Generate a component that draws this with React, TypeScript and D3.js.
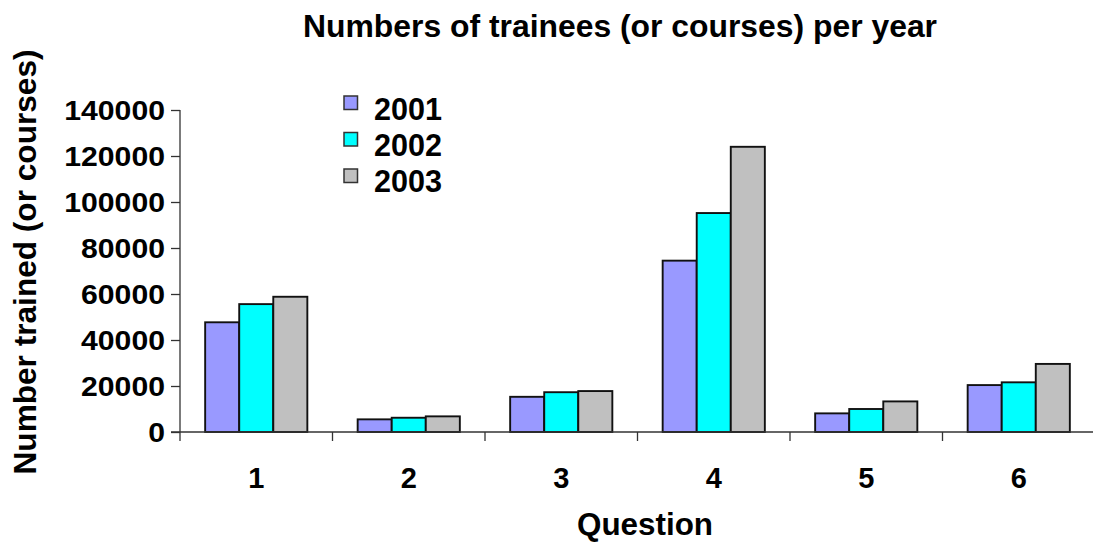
import React, { useEffect, useRef } from 'react';
import * as d3 from 'd3';

const questions = ['1', '2', '3', '4', '5', '6'];
const years = ['2001', '2002', '2003'];
const values2001 = [47700, 5500, 15300, 74500, 8100, 20400];
const values2002 = [55600, 6200, 17300, 95200, 10000, 21600];
const values2003 = [58800, 6800, 17800, 124000, 13300, 29600];
const yTicks = [0, 20000, 40000, 60000, 80000, 100000, 120000, 140000];
const colors = ['#9999FF', '#00FFFF', '#C0C0C0'];

const FONT = '"Liberation Sans", Arial, sans-serif';

const App = () => {
    const ref = useRef<SVGSVGElement>(null);

    useEffect(() => {
        const svg = d3.select(ref.current);
        svg.selectAll('*').remove();

        const left = 180;
        const right = 1095;
        const top = 110;
        const bottom = 432;

        const series = [values2001, values2002, values2003];

        const x0 = d3.scaleBand().domain(questions).range([left, right]).padding(0);
        const step = x0.step();
        const x1 = d3.scaleBand().domain(years).range([step * 0.165, step * 0.835]).padding(0);
        const y = d3.scaleLinear().domain([0, 140000]).range([bottom, top]);

        // Title
        svg.append('text')
            .attr('x', 620)
            .attr('y', 37)
            .attr('text-anchor', 'middle')
            .attr('font-family', FONT)
            .attr('font-weight', 'bold')
            .attr('font-size', 32)
            .attr('textLength', 634)
            .attr('lengthAdjust', 'spacingAndGlyphs')
            .text('Numbers of trainees (or courses) per year');

        // Bars
        series.forEach((vals, si) => {
            svg.append('g')
                .selectAll('rect')
                .data(vals)
                .enter()
                .append('rect')
                .attr('x', (d, i) => (x0(questions[i]) as number) + (x1(years[si]) as number))
                .attr('y', d => y(d))
                .attr('width', x1.bandwidth())
                .attr('height', d => bottom - y(d))
                .attr('fill', colors[si])
                .attr('stroke', '#111')
                .attr('stroke-width', 1.9);
        });

        // Y axis
        const yAxis = svg.append('g')
            .attr('transform', `translate(${left},0)`)
            .call(d3.axisLeft(y).tickValues(yTicks).tickSize(9).tickPadding(6).tickFormat(d3.format('d')));
        yAxis.select('.domain').attr('stroke', '#333').attr('stroke-width', 1.3).attr('d', `M0,${top}V${bottom + 9}`);
        yAxis.selectAll('.tick line').attr('stroke', '#333').attr('stroke-width', 1.3);
        yAxis.selectAll('.tick text')
            .attr('font-family', FONT)
            .attr('font-weight', 'bold')
            .attr('font-size', 27)
            .attr('fill', '#000')
            .attr('dy', '0.36em')
            .attr('textLength', (d: any) => String(d).length * 16.8)
            .attr('lengthAdjust', 'spacingAndGlyphs');

        // X axis
        const xg = svg.append('g');
        xg.append('line')
            .attr('x1', left - 9).attr('x2', right)
            .attr('y1', bottom).attr('y2', bottom)
            .attr('stroke', '#333').attr('stroke-width', 1.3);
        xg.selectAll('.xtick')
            .data(questions.slice(1))
            .enter()
            .append('line')
            .attr('x1', d => x0(d) as number).attr('x2', d => x0(d) as number)
            .attr('y1', bottom).attr('y2', bottom + 9)
            .attr('stroke', '#333').attr('stroke-width', 1.3);
        xg.selectAll('.xlabel')
            .data(questions)
            .enter()
            .append('text')
            .attr('x', d => (x0(d) as number) + step / 2)
            .attr('y', 488)
            .attr('text-anchor', 'middle')
            .attr('font-family', FONT)
            .attr('font-weight', 'bold')
            .attr('font-size', 29)
            .text(d => d);

        // X axis title
        svg.append('text')
            .attr('x', 645)
            .attr('y', 535)
            .attr('text-anchor', 'middle')
            .attr('font-family', FONT)
            .attr('font-weight', 'bold')
            .attr('font-size', 31)
            .attr('textLength', 136)
            .attr('lengthAdjust', 'spacingAndGlyphs')
            .text('Question');

        // Y axis title
        svg.append('text')
            .attr('transform', 'translate(36,262) rotate(-90)')
            .attr('text-anchor', 'middle')
            .attr('font-family', FONT)
            .attr('font-weight', 'bold')
            .attr('font-size', 32)
            .attr('textLength', 425)
            .attr('lengthAdjust', 'spacingAndGlyphs')
            .text('Number trained (or courses)');

        // Legend
        const legend = svg.append('g');
        years.forEach((yr, i) => {
            legend.append('rect')
                .attr('x', 344)
                .attr('y', 96 + i * 36.5)
                .attr('width', 13.5)
                .attr('height', 13.5)
                .attr('fill', colors[i])
                .attr('stroke', '#333')
                .attr('stroke-width', 1.5);
            legend.append('text')
                .attr('x', 374)
                .attr('y', 120 + i * 36)
                .attr('font-family', FONT)
                .attr('font-weight', 'bold')
                .attr('font-size', 32)
                .attr('textLength', 68)
                .attr('lengthAdjust', 'spacingAndGlyphs')
                .text(yr);
        });
    }, []);

    return (
        <svg
            ref={ref}
            width={1093}
            height={545}
            style={{ position: 'absolute', left: 0, top: 0, background: '#fff' }}
        ></svg>
    );
};

export default App;
